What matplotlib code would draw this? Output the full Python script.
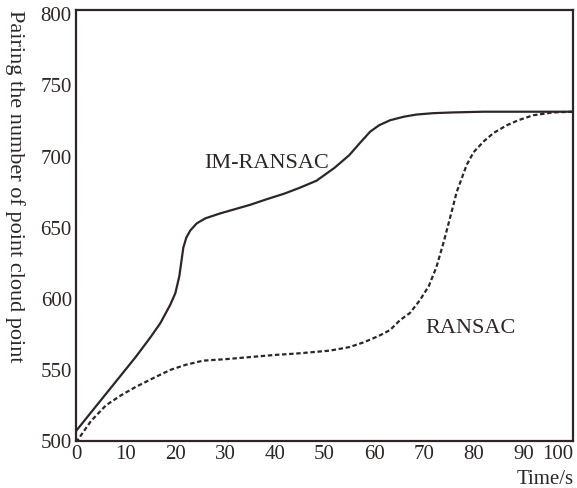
import matplotlib.pyplot as plt
import numpy as np

# values
im_time = [0, 3, 6, 9, 12, 15, 17, 19, 20, 20.8, 21.2, 21.6, 22.2, 23, 24.3,
           26, 29, 32, 35, 38.4, 42, 45, 48.4, 52, 55, 57, 59.2, 61, 63.2,
           66, 68.5, 72, 76, 82, 90, 100]
im_points = [507, 520, 533, 546, 559, 573, 583, 596, 604, 616, 626, 636, 643,
             648, 653, 656.5, 660, 663, 666, 670, 674, 678, 683, 692, 701, 709,
             717.5, 722, 725.5, 728, 729.5, 730.5, 731, 731.5, 731.5, 731.5]

ransac_time = [0, 3, 6, 9, 12, 16, 19, 22, 25.6, 30, 35, 40, 44.4, 51, 55, 58,
               61, 63.2, 65.2, 67.2, 69.2, 71, 72.5, 74, 75.5, 76.6, 78.6, 80,
               82, 84, 86.7, 89, 92, 96, 100]
ransac_points = [499, 514, 525, 532, 538, 545, 550, 553.5, 556.5, 557.5, 559,
                 560.5, 561.5, 563.5, 566, 569.5, 574, 578, 585, 590, 599, 609,
                 622, 640, 660, 675, 694, 703, 710.5, 716.5, 722, 725.5, 729,
                 731, 731.5]

x_ticks = [0, 10, 20, 30, 40, 50, 60, 70, 80, 90, 100]
y_ticks = [500, 550, 600, 650, 700, 750, 800]

plt.rcParams['font.family'] = ['Liberation Serif', 'DejaVu Serif']
ink = '#2e2626'

fig = plt.figure(figsize=(5.77, 4.88), dpi=100)
ax = fig.add_axes([0.1317, 0.0963, 0.8613, 0.8832])

ax.plot(im_time, im_points, color=ink, lw=1.6, solid_capstyle='round')
ax.plot(ransac_time, ransac_points, color=ink, lw=1.6, linestyle=(0, (2, 1.2)))

ax.text(38.4, 695, 'IM-RANSAC', fontsize=16, color=ink, ha='center', va='center')
ax.text(79.3, 579, 'RANSAC', fontsize=16, color=ink, ha='center', va='center')

ax.set_xlim(0, 100)
ax.set_ylim(500, 803)
ax.set_xticks(x_ticks)
ax.set_yticks(y_ticks)
ax.tick_params(length=0, labelsize=15, labelcolor=ink, pad=3)
ax.get_xticklabels()[-1].set_horizontalalignment('right')
for s in ax.spines.values():
    s.set_color(ink)
    s.set_linewidth(1.6)

fig.text(0.995, 0.008, 'Time/s', fontsize=15, color=ink, ha='right', va='baseline')
fig.text(0.026, 0.98, 'Pairing the number of point cloud point', fontsize=16,
         color=ink, rotation=270, ha='center', va='top')

plt.savefig('out.png', dpi=100)
